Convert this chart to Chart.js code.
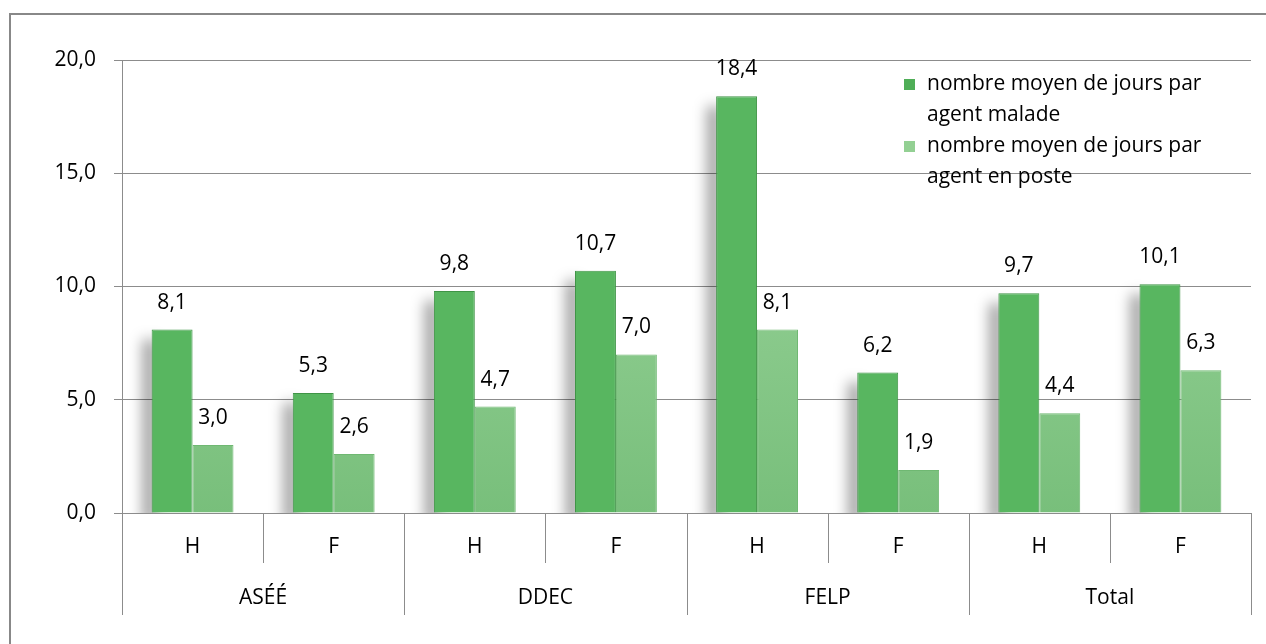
<!DOCTYPE html>
<html>
<head>
<meta charset="utf-8">
<script src="https://cdn.jsdelivr.net/npm/chart.js@4"></script>
<style>
  html, body { margin: 0; padding: 0; background: #ffffff; }
  #wrap { width: 1266px; height: 644px; }
</style>
</head>
<body>
<div id="wrap"><canvas id="absChart"></canvas></div>
<script>
// groups and sub categories
const groups = ['ASÉÉ', 'DDEC', 'FELP', 'Total'];
const subLabels = ['H', 'F', 'H', 'F', 'H', 'F', 'H', 'F'];

// values
const joursMalade = [8.1, 5.3, 9.8, 10.7, 18.4, 6.2, 9.7, 10.1];
const joursPoste = [3.0, 2.6, 4.7, 7.0, 8.1, 1.9, 4.4, 6.3];

const yTicks = [0, 5, 10, 15, 20];

const legendLines = [
    ['nombre moyen de jours par', 'agent malade'],
    ['nombre moyen de jours par', 'agent en poste']
];

const FONT = '"Open Sans", Lato, sans-serif';
const FSIZE = 21;
const gridGray = '#8c8c8c';

function fmt(v) {
    return v.toFixed(1).replace('.', ',');
}

function lightFill(context) {
    const chart = context.chart;
    const area = chart.chartArea;
    if (!area) return '#8fcd90';
    const g = chart.ctx.createLinearGradient(0, area.top, 0, area.bottom);
    g.addColorStop(0, '#a3d9a3');
    g.addColorStop(1, '#78bf7b');
    return g;
}

// outer frame, drawn first
const framePlugin = {
    id: 'frame',
    beforeDraw(chart) {
        const ctx = chart.ctx;
        ctx.save();
        ctx.strokeStyle = '#888888';
        ctx.lineWidth = 2;
        ctx.strokeRect(10, 14, 1300, 700);
        ctx.restore();
    }
};

// soft gray shade on the left of the dark bars
const shadowPlugin = {
    id: 'barShadow',
    beforeDatasetsDraw(chart) {
        const ctx = chart.ctx;
        const area = chart.chartArea;
        ctx.save();
        ctx.beginPath();
        ctx.rect(area.left, area.top - 40, area.right - area.left, area.bottom - area.top + 40);
        ctx.clip();
        ctx.filter = 'blur(7px)';
        ctx.fillStyle = 'rgba(0,0,0,0.38)';
        chart.getDatasetMeta(0).data.forEach(function (bar) {
            const left = bar.x - bar.width / 2;
            ctx.fillRect(left - 9, bar.y + 10, 14, area.bottom - bar.y);
        });
        ctx.restore();
    }
};

// value labels on top of the bars
const valuePlugin = {
    id: 'values',
    afterDatasetsDraw(chart) {
        const ctx = chart.ctx;
        ctx.save();
        ctx.font = FSIZE + 'px ' + FONT;
        ctx.fillStyle = '#000000';
        ctx.textAlign = 'center';
        ctx.textBaseline = 'middle';
        chart.data.datasets.forEach(function (ds, di) {
            chart.getDatasetMeta(di).data.forEach(function (bar, i) {
                ctx.fillText(fmt(ds.data[i]), bar.x, bar.y - 27);
            });
        });
        ctx.restore();
    }
};

// two level category axis with separators
const groupAxisPlugin = {
    id: 'groupAxis',
    afterDraw(chart) {
        const ctx = chart.ctx;
        const x = chart.scales.x;
        const bottom = chart.chartArea.bottom;
        const step = x.getPixelForValue(1) - x.getPixelForValue(0);
        ctx.save();
        ctx.strokeStyle = gridGray;
        ctx.lineWidth = 1;
        ctx.font = FSIZE + 'px ' + FONT;
        ctx.fillStyle = '#000000';
        ctx.textAlign = 'center';
        ctx.textBaseline = 'middle';
        for (let i = 0; i <= subLabels.length; i++) {
            const px = Math.round(x.getPixelForValue(0) - step / 2 + i * step) + 0.5;
            const len = (i % 2 === 0) ? 102 : 50;
            ctx.beginPath();
            ctx.moveTo(px, bottom);
            ctx.lineTo(px, bottom + len);
            ctx.stroke();
        }
        subLabels.forEach(function (lab, i) {
            ctx.fillText(lab, x.getPixelForValue(i), bottom + 34);
        });
        groups.forEach(function (g, i) {
            const cx = (x.getPixelForValue(2 * i) + x.getPixelForValue(2 * i + 1)) / 2;
            ctx.fillText(g, cx, bottom + 85);
        });
        ctx.restore();
    }
};

// legend with wrapped text
const legendPlugin = {
    id: 'wrapLegend',
    afterDraw(chart) {
        const ctx = chart.ctx;
        ctx.save();
        ctx.font = FSIZE + 'px ' + FONT;
        ctx.textBaseline = 'middle';
        ctx.textAlign = 'left';
        legendLines.forEach(function (lines, i) {
            const y0 = 84 + i * 62;
            ctx.fillStyle = i === 0 ? '#4fae57' : '#93d093';
            ctx.fillRect(904, y0 - 5, 11, 11);
            ctx.fillStyle = '#000000';
            lines.forEach(function (t, k) {
                ctx.fillText(t, 927, y0 + k * 31);
            });
        });
        ctx.restore();
    }
};

const config = {
    type: 'bar',
    data: {
        labels: subLabels,
        datasets: [{
            label: legendLines[0].join(' '),
            data: joursMalade,
            backgroundColor: '#58b660',
            borderColor: '#3f9446',
            borderWidth: 1,
            categoryPercentage: 0.58,
            barPercentage: 1.0
        }, {
            label: legendLines[1].join(' '),
            data: joursPoste,
            backgroundColor: lightFill,
            borderColor: '#6fb872',
            borderWidth: 1,
            categoryPercentage: 0.58,
            barPercentage: 1.0
        }]
    },
    options: {
        responsive: true,
        maintainAspectRatio: false,
        animation: false,
        layout: {
            padding: { left: 0, right: 15, top: 60, bottom: 0 }
        },
        plugins: {
            legend: { display: false },
            tooltip: { enabled: false }
        },
        scales: {
            x: {
                grid: { display: false, drawTicks: false },
                border: { display: false },
                ticks: { display: false },
                afterFit(scale) { scale.height = 131; }
            },
            y: {
                min: 0,
                max: 20,
                afterBuildTicks(scale) {
                    scale.ticks = yTicks.map(function (v) { return { value: v }; });
                },
                ticks: {
                    font: { family: FONT, size: FSIZE },
                    color: '#000000',
                    padding: 18,
                    callback: function (v) { return fmt(v); }
                },
                grid: { color: gridGray, tickLength: 8, lineWidth: 1 },
                border: { color: gridGray },
                afterFit(scale) { scale.width = 122; }
            }
        }
    },
    plugins: [framePlugin, shadowPlugin, valuePlugin, groupAxisPlugin, legendPlugin]
};

const absChart = new Chart(document.getElementById('absChart'), config);
</script>
</body>
</html>
